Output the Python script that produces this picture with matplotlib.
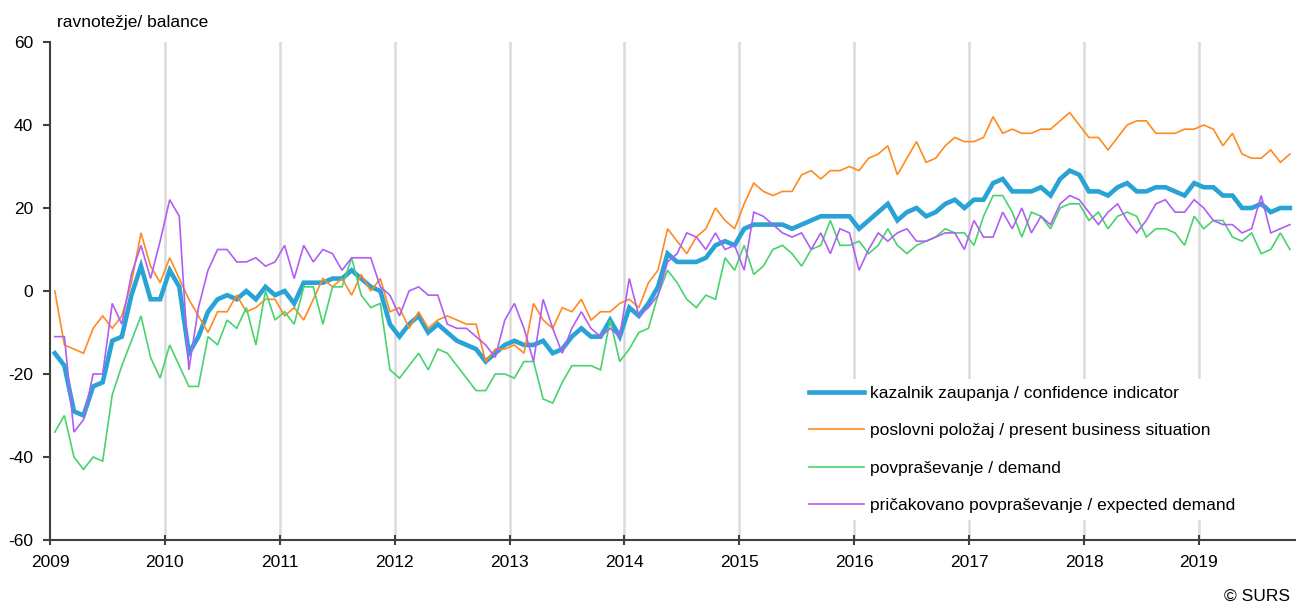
import numpy as np
import matplotlib
matplotlib.use("Agg")
import matplotlib.pyplot as plt

plt.rcParams['font.family'] = ['Liberation Sans', 'DejaVu Sans']
plt.rcParams['axes.unicode_minus'] = False

# monthly balances, January 2009 - October 2019
years = list(range(2009, 2020))

confidence = [
    -15, -18, -29, -30, -23, -22, -12, -11, -1, 6, -2, -2,
    5, 1, -15, -11, -5, -2, -1, -2, 0, -2, 1, -1,
    0, -3, 2, 2, 2, 3, 3, 5, 3, 1, 0, -8,
    -11, -8, -6, -10, -8, -10, -12, -13, -14, -17, -15, -13,
    -12, -13, -13, -12, -15, -14, -11, -9, -11, -11, -7, -11,
    -4, -6, -3, 1, 9, 7, 7, 7, 8, 11, 12, 11,
    15, 16, 16, 16, 16, 15, 16, 17, 18, 18, 18, 18,
    15, 17, 19, 21, 17, 19, 20, 18, 19, 21, 22, 20,
    22, 22, 26, 27, 24, 24, 24, 25, 23, 27, 29, 28,
    24, 24, 23, 25, 26, 24, 24, 25, 25, 24, 23, 26,
    25, 25, 23, 23, 20, 20, 21, 19, 20, 20,
]

business = [
    0, -13, -14, -15, -9, -6, -9, -6, 2, 14, 6, 2,
    8, 3, -2, -6, -10, -5, -5, -1, -5, -4, -2, -2,
    -6, -4, -7, -2, 3, 1, 3, -1, 4, 0, 3, -5,
    -4, -9, -5, -9, -7, -6, -7, -8, -8, -17, -14, -14,
    -13, -15, -3, -7, -9, -4, -5, -2, -7, -5, -5, -3,
    -2, -4, 2, 5, 15, 12, 9, 13, 15, 20, 17, 15,
    21, 26, 24, 23, 24, 24, 28, 29, 27, 29, 29, 30,
    29, 32, 33, 35, 28, 32, 36, 31, 32, 35, 37, 36,
    36, 37, 42, 38, 39, 38, 38, 39, 39, 41, 43, 40,
    37, 37, 34, 37, 40, 41, 41, 38, 38, 38, 39, 39,
    40, 39, 35, 38, 33, 32, 32, 34, 31, 33,
]

demand = [
    -34, -30, -40, -43, -40, -41, -25, -18, -12, -6, -16, -21,
    -13, -18, -23, -23, -11, -13, -7, -9, -4, -13, 0, -7,
    -5, -8, 1, 1, -8, 1, 1, 8, -1, -4, -3, -19,
    -21, -18, -15, -19, -14, -15, -18, -21, -24, -24, -20, -20,
    -21, -17, -17, -26, -27, -22, -18, -18, -18, -19, -7, -17,
    -14, -10, -9, -1, 5, 2, -2, -4, -1, -2, 8, 5,
    11, 4, 6, 10, 11, 9, 6, 10, 11, 17, 11, 11,
    12, 9, 11, 15, 11, 9, 11, 12, 13, 15, 14, 14,
    11, 18, 23, 23, 19, 13, 19, 18, 15, 20, 21, 21,
    17, 19, 15, 18, 19, 18, 13, 15, 15, 14, 11, 18,
    15, 17, 17, 13, 12, 14, 9, 10, 14, 10,
]

expected = [
    -11, -11, -34, -31, -20, -20, -3, -8, 4, 11, 3, 12,
    22, 18, -19, -4, 5, 10, 10, 7, 7, 8, 6, 7,
    11, 3, 11, 7, 10, 9, 5, 8, 8, 8, 1, -1,
    -6, 0, 1, -1, -1, -8, -9, -9, -11, -13, -16, -7,
    -3, -9, -17, -2, -9, -15, -9, -5, -9, -11, -9, -11,
    3, -6, -4, -1, 7, 9, 14, 13, 10, 14, 10, 11,
    5, 19, 18, 16, 14, 13, 14, 10, 14, 9, 15, 14,
    5, 10, 14, 12, 14, 15, 12, 12, 13, 14, 14, 10,
    17, 13, 13, 19, 15, 20, 14, 18, 16, 21, 23, 22,
    19, 16, 19, 21, 17, 14, 17, 21, 22, 19, 19, 22,
    20, 17, 16, 16, 14, 15, 23, 14, 15, 16,
]

labels = [
    'kazalnik zaupanja / confidence indicator',
    'poslovni položaj / present business situation',
    'povpraševanje / demand',
    'pričakovano povpraševanje / expected demand',
]
colors = ['#29a3d6', '#ff8a1f', '#47d36e', '#b15ef4']
widths = [3.3, 1.2, 1.2, 1.2]


def plot_balances():
    fig = plt.figure(figsize=(12.96, 6.07), dpi=100)
    ax = fig.add_axes([0.0386, 0.1104, 0.9604, 0.8204])

    # points sit in the middle of each month slot
    x = np.arange(len(confidence)) + 0.5
    for series, label, color, lw in zip([confidence, business, demand, expected],
                                        labels, colors, widths):
        ax.plot(x, series, color=color, lw=lw, label=label,
                solid_joinstyle='miter', zorder=3)

    ax.set_xlim(0, len(confidence))
    ax.set_ylim(-60, 60)
    ax.set_yticks(range(-60, 61, 20))

    year_pos = [12 * i for i in range(len(years))]
    ax.set_xticks(year_pos)
    ax.set_xticklabels([str(y) for y in years])
    for p in year_pos[1:]:
        ax.axvline(p, color='#dadada', lw=1.8, zorder=1)

    for side in ['top', 'right']:
        ax.spines[side].set_visible(False)
    for side in ['left', 'bottom']:
        ax.spines[side].set_color('#404040')
        ax.spines[side].set_linewidth(1.5)
        ax.spines[side].set_zorder(4)

    ax.tick_params(axis='y', direction='out', length=5, width=1.5,
                   color='#404040', labelsize=12.5, pad=7)
    ax.tick_params(axis='x', direction='inout', length=7, width=1.5,
                   color='#404040', labelsize=12.5, pad=7)

    fig.text(0.044, 0.955, 'ravnotežje/ balance', fontsize=12.5)
    fig.text(0.995, 0.005, '© SURS', fontsize=12.5, ha='right', va='bottom')

    leg = ax.legend(loc='upper left', bbox_to_anchor=(0.612, 0.39),
                    bbox_transform=fig.transFigure, fontsize=12.5,
                    frameon=True, framealpha=1, facecolor='white',
                    edgecolor='none', fancybox=False,
                    handlelength=3.2, handletextpad=0.35,
                    labelspacing=1.28, borderpad=0.4)
    leg.set_zorder(5)

    fig.savefig('out.png', dpi=100)


if __name__ == '__main__':
    plot_balances()
